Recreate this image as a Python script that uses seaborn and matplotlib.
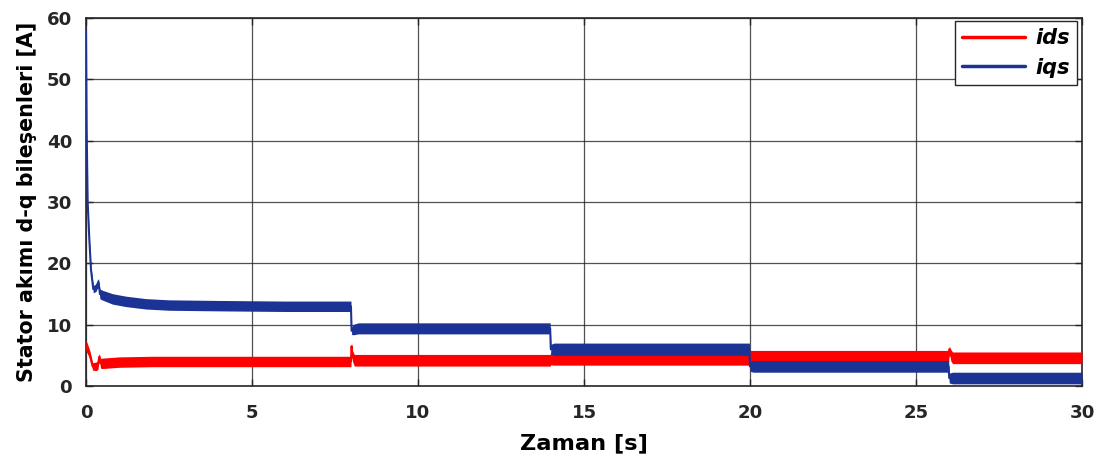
import numpy as np
import pandas as pd
import matplotlib
matplotlib.use("Agg")
import matplotlib.pyplot as plt
import seaborn as sns

# Time breakpoints [s] and d-q stator current levels [A]
t_iqs = [0.0, 0.02, 0.05, 0.10, 0.15, 0.22, 0.30, 0.33, 0.38, 0.42, 0.50, 0.8, 1.2, 1.8, 2.5, 4.0, 6.0,
         7.98, 8.0, 8.05, 8.2, 13.98, 14.0, 14.1, 19.98, 20.0, 20.1, 25.98, 26.0, 26.1, 30.0]
iqs_mid = [58.0, 42.0, 30.0, 24.0, 19.0, 15.8, 16.0, 16.5, 16.8, 15.0, 14.8, 14.2, 13.8, 13.4, 13.2, 13.1, 13.0,
           13.0, 9.0, 9.2, 9.4, 9.4, 6.0, 6.0, 6.0, 3.2, 3.2, 3.2, 1.3, 1.3, 1.3]
iqs_half = [0.0, 0.1, 0.2, 0.3, 0.4, 0.6, 0.6, 0.7, 0.7, 0.8, 0.8, 0.85, 0.85, 0.85, 0.85, 0.85, 0.85,
            0.85, 0.6, 0.85, 0.9, 0.9, 0.8, 1.0, 1.0, 0.8, 0.95, 0.95, 0.8, 0.95, 0.95]

t_ids = [0.0, 0.05, 0.12, 0.20, 0.30, 0.36, 0.40, 0.44, 0.50, 1.0, 2.0, 4.0, 7.98,
         8.0, 8.02, 8.08, 13.98, 14.0, 14.1, 19.98, 20.0, 20.1, 25.98, 26.0, 26.05, 26.1, 30.0]
ids_mid = [6.6, 6.0, 5.0, 3.2, 3.2, 3.4, 4.8, 3.7, 3.7, 3.9, 4.0, 4.0, 4.0,
           6.5, 5.0, 4.2, 4.2, 4.5, 4.5, 4.5, 4.8, 4.8, 4.8, 6.0, 5.0, 4.6, 4.6]
ids_half = [0.9, 0.8, 0.7, 0.6, 0.7, 0.7, 0.5, 0.8, 0.85, 0.85, 0.85, 0.85, 0.85,
            0.5, 0.85, 0.95, 0.95, 1.05, 1.1, 1.1, 1.0, 1.0, 1.0, 0.5, 0.95, 0.95, 0.95]

x_ticks = [0, 5, 10, 15, 20, 25, 30]
y_ticks = [0, 10, 20, 30, 40, 50, 60]

RED = "#ff0000"
BLUE = "#1b3394"
INK = "#262626"

sns.set_theme(style="whitegrid")
plt.rcParams["font.family"] = ["DejaVu Sans"]

fig = plt.figure(figsize=(11.01, 4.59), dpi=100)
ax = fig.add_axes([0.0781, 0.159, 0.9047, 0.8018])
ax.set_facecolor("white")

df_ids = pd.DataFrame({"t": t_ids, "val": ids_mid})
df_iqs = pd.DataFrame({"t": t_iqs, "val": iqs_mid})

# ripple envelopes around each current
ax.fill_between(t_ids, np.array(ids_mid) - np.array(ids_half), np.array(ids_mid) + np.array(ids_half),
                color=RED, lw=0, zorder=3)
ax.fill_between(t_iqs, np.array(iqs_mid) - np.array(iqs_half), np.array(iqs_mid) + np.array(iqs_half),
                color=BLUE, lw=0, zorder=4)

sns.lineplot(data=df_ids, x="t", y="val", ax=ax, color=RED, lw=1.5, label="ids", zorder=3, sort=False)
sns.lineplot(data=df_iqs, x="t", y="val", ax=ax, color=BLUE, lw=1.5, label="iqs", zorder=4, sort=False)

ax.set_xlim(0, 30)
ax.set_ylim(0, 60)
ax.set_xticks(x_ticks)
ax.set_yticks(y_ticks)
ax.set_xticklabels([str(v) for v in x_ticks], fontsize=13.1, fontweight="bold", color=INK)
ax.set_yticklabels([str(v) for v in y_ticks], fontsize=13.1, fontweight="bold", color=INK)

ax.grid(True, color=INK, lw=0.9, alpha=0.8)
ax.set_axisbelow(True)
for s in ax.spines.values():
    s.set_visible(True)
    s.set_color(INK)
    s.set_linewidth(1.2)
ax.tick_params(axis="both", direction="in", length=5, width=1, color=INK,
               top=True, right=True, bottom=True, left=True)
ax.tick_params(axis="x", pad=13)
ax.tick_params(axis="y", pad=10)

ax.set_xlabel("Zaman [s]", fontsize=16.2, fontweight="bold", labelpad=8, color="black")
ax.set_ylabel("Stator akımı d-q bileşenleri [A]", fontsize=14.9, fontweight="bold", labelpad=7, color="black")

leg = ax.legend(loc="upper right", fontsize=15, frameon=True, fancybox=False,
                handlelength=3.0, borderpad=0.35, labelspacing=0.45, handletextpad=0.5,
                borderaxespad=0, bbox_to_anchor=(0.995, 0.992))
leg.get_frame().set_edgecolor(INK)
leg.get_frame().set_linewidth(1.0)
leg.get_frame().set_alpha(1)
for txt in leg.get_texts():
    txt.set_fontweight("bold")
    txt.set_fontstyle("italic")
    txt.set_color("black")
for line in leg.get_lines():
    line.set_linewidth(2.5)

fig.savefig("out.png", dpi=100)
